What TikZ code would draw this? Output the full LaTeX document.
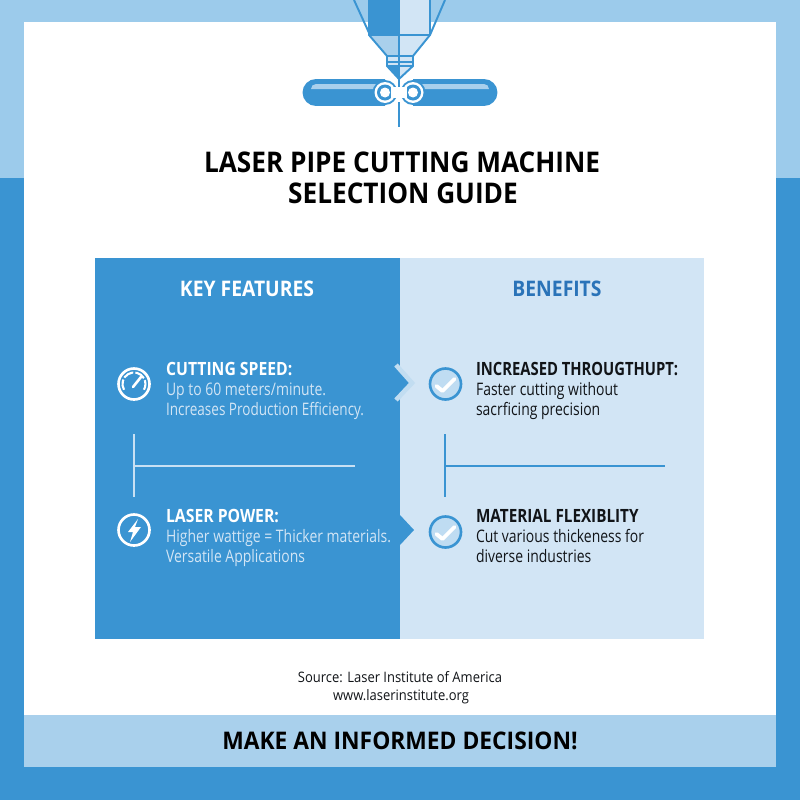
\documentclass[tikz,border=0pt]{standalone}
\usepackage{fontspec}
\setmainfont{Open Sans}
\definecolor{laserblue}{HTML}{3A94D2}
\definecolor{skyband}{HTML}{9CCBEB}
\definecolor{footband}{HTML}{A9D0EC}
\definecolor{paleblue}{HTML}{D2E5F5}
\definecolor{headblue}{HTML}{2A73B8}
\definecolor{badgeblue}{HTML}{BFDCF2}
\definecolor{inkblack}{HTML}{111418}
\tikzset{
	titletext/.style={font=\fontsize{8.1pt}{10pt}\selectfont\bfseries, text=black, xscale=0.92, inner sep=0pt},
	colhead/.style={font=\fontsize{6.1pt}{8pt}\selectfont\bfseries, xscale=0.9, inner sep=0pt},
	itemhead/.style={font=\fontsize{5.2pt}{7pt}\selectfont\bfseries, anchor=base west, xscale=0.86, inner sep=0pt},
	itembody/.style={font=\fontsize{4.9pt}{6pt}\selectfont, anchor=base west, xscale=0.81, inner sep=0pt},
	sourcetext/.style={font=\fontsize{4.1pt}{6pt}\selectfont, text=inkblack, xscale=0.9, inner sep=0pt},
	nozzleline/.style={draw=laserblue, line width=0.55pt, line join=round},
	divider/.style={line width=0.6pt}
}
\def\checkbadge(#1,#2){
	\draw[draw=laserblue, fill=badgeblue, line width=0.75pt] (#1, #2) circle (15.5);
	\draw[white, line width=1.1pt, line cap=round, line join=round] (#1-9, #2+2) -- (#1-3, #2+7) -- (#1+9, #2-5);
}
\def\pipering(#1,#2){
	\fill[laserblue] (#1, #2) circle (12.5);
	\fill[white] (#1, #2) circle (10.5);
	\fill[laserblue] (#1, #2) circle (8);
	\fill[white] (#1, #2) circle (5);
}

\begin{document}
\begin{tikzpicture}[x=0.01cm, y=-0.01cm]
		%%%%% START %%%%%
		\useasboundingbox (0, 0) rectangle (800, 800);
		
		\fill[skyband] (0, 0) rectangle (800, 178);
		\fill[laserblue] (0, 178) rectangle (800, 800);
		\fill[white] (24, 22) rectangle (776, 715);
		\fill[footband] (24, 715) rectangle (776, 767);
		
		%%%%% nozzle %%%%%
		\draw[nozzleline] (354, 0) -- (370, 35);
		\draw[nozzleline] (445, 0) -- (430, 35);
		\fill[laserblue] (369, 0) rectangle (399, 35);
		\fill[paleblue] (399, 0) rectangle (430, 35);
		\fill[footband] (370, 35) -- (399, 35) -- (399, 56) -- (387, 56) -- cycle;
		\fill[paleblue] (399, 35) -- (430, 35) -- (413, 56) -- (399, 56) -- cycle;
		\fill[paleblue] (387, 56) rectangle (413, 66);
		\fill[laserblue] (387, 66) -- (399, 79) -- (399, 66) -- cycle;
		\fill[paleblue] (399, 66) -- (399, 79) -- (413, 66) -- cycle;
		\draw[nozzleline] (369, 0) -- (369, 35) -- (387, 56) -- (387, 66) -- (399, 79) -- (413, 66) -- (413, 56) -- (430, 35) -- (430, 0);
		\draw[nozzleline] (399, 0) -- (399, 79);
		\draw[nozzleline] (369, 35) -- (430, 35);
		\draw[nozzleline] (387, 56) -- (413, 56);
		\draw[nozzleline] (387, 62) -- (413, 62);
		\draw[nozzleline] (387, 66) -- (413, 66);
		
		%%%%% pipes %%%%%
		\draw[nozzleline, fill=laserblue] (385, 80) -- (316, 80) arc (270:90:12.5) -- (385, 105);
		\fill[footband] (316, 84) arc (270:180:5) -- (311, 89) -- (380, 89) -- (380, 84) -- cycle;
		\draw[nozzleline, fill=laserblue] (413, 80) -- (484, 80) arc (270:450:12.5) -- (413, 105);
		\fill[footband] (484, 84) arc (270:360:5) -- (489, 89) -- (420, 89) -- (420, 84) -- cycle;
		\pipering(385,92.5)
		\pipering(413,92.5)
		\fill[white] (391, 87) rectangle (407, 98);
		\draw[draw=laserblue, line width=0.6pt] (399, 79) -- (399, 87);
		\draw[draw=laserblue, line width=0.6pt] (399, 102) -- (399, 127);
		
		%%%%% title %%%%%
		\node[titletext] (title1) at (402, 162) {LASER PIPE CUTTING MACHINE};
		\node[titletext] (title2) at (403, 193) {SELECTION GUIDE};
		
		%%%%% panels %%%%%
		\fill[laserblue] (95, 258) rectangle (400, 639);
		\fill[paleblue] (400, 258) rectangle (704, 639);
		\node[colhead, text=white] (keyhead) at (247, 289) {KEY FEATURES};
		\node[colhead, text=headblue] (benhead) at (557, 289) {BENEFITS};
		
		%%%%% arrows between the columns %%%%%
		\fill[laserblue] (400, 368) -- (411, 383) -- (400, 398) -- cycle;
		\draw[paleblue!60!footband, line width=1.3pt] (396, 365) -- (412, 383) -- (396, 400);
		\fill[laserblue] (400, 515) -- (414, 530) -- (400, 545) -- cycle;
		
		%%%%% left column %%%%%
		\node[itemhead, text=white] (speedhead) at (165.5, 375) {CUTTING SPEED:};
		\node[itembody, text=paleblue] (speedone) at (165.5, 395) {Up to 60 meters/minute.};
		\node[itembody, text=paleblue, xscale=0.97] (speedtwo) at (165.5, 415) {Increases Production Efficiency.};
		\node[itemhead, text=white] (powerhead) at (165.5, 522) {LASER POWER:};
		\node[itembody, text=paleblue] (powerone) at (165.5, 542) {Higher wattige = Thicker materials.};
		\node[itembody, text=paleblue] (powertwo) at (165.5, 562) {Versatile Applications};
		
		\draw[white, line width=0.75pt] (134, 384) circle (15.5);
		\draw[white, line width=0.6pt, dash pattern=on 3pt off 0.6pt] (124, 389.75) arc (150:390:11.5);
		\draw[white, line width=0.75pt, line cap=round] (133, 387) -- (141, 377);
		\draw[white, line width=0.75pt] (134, 530) circle (15.5);
		\fill[white] (138, 519) -- (128, 532) -- (133, 532) -- (130, 542) -- (141, 527) -- (135, 527) -- cycle;
		
		\draw[divider, draw=paleblue!75!footband] (134, 434) -- (134, 497);
		\draw[divider, draw=paleblue!75!footband] (134, 466) -- (355, 466);
		
		%%%%% right column %%%%%
		\node[itemhead, text=inkblack, xscale=0.94] (thruhead) at (475.5, 375) {INCREASED THROUGTHUPT:};
		\node[itembody, text=inkblack] (thruone) at (475.5, 395) {Faster cutting without};
		\node[itembody, text=inkblack] (thrutwo) at (475.5, 415) {sacrficing precision};
		\node[itemhead, text=inkblack, xscale=0.97] (flexhead) at (475.5, 522) {MATERIAL FLEXIBLITY};
		\node[itembody, text=inkblack] (flexone) at (475.5, 542) {Cut various thickeness for};
		\node[itembody, text=inkblack] (flextwo) at (475.5, 562) {diverse industries};
		
		\checkbadge(445.5,384)
		\checkbadge(445.5,532)
		
		\draw[divider, draw=laserblue] (445, 434) -- (445, 497);
		\draw[divider, draw=laserblue] (445, 466) -- (665, 466);
		
		%%%%% source and footer %%%%%
		\node[sourcetext] (source1) at (400, 677) {Source: Laser Institute of America};
		\node[sourcetext] (source2) at (401, 697) {www.laserinstitute.org};
		\node[font=\fontsize{6.9pt}{9pt}\selectfont\bfseries, text=black, xscale=0.94, inner sep=0pt] (footer) at (400, 741) {MAKE AN INFORMED DECISION!};
		%%%%% END %%%%%
	\end{tikzpicture}
\end{document}
